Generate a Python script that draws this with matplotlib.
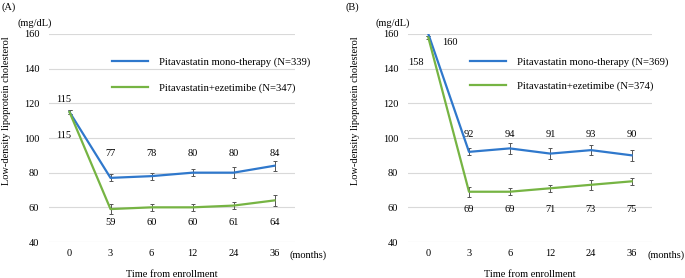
import numpy as np
import matplotlib
matplotlib.use('Agg')
import matplotlib.pyplot as plt

plt.rcParams['font.family'] = ['Liberation Serif', 'DejaVu Serif']
plt.rcParams['font.size'] = 7.5

# data
months = ['0', '3', '6', '12', '24', '36']

a_mono = [115, 77, 78, 80, 80, 84]
a_mono_err = [1, 2, 2, 2, 3, 3]
a_ezet = [115, 59, 60, 60, 61, 64]
a_ezet_err = [1, 3, 2, 2, 2, 3]

b_mono = [160, 92, 94, 91, 93, 90]
b_mono_err = [1, 2, 3, 3, 3, 3]
b_ezet = [158, 69, 69, 71, 73, 75]
b_ezet_err = [1, 3, 2, 2, 3, 2]

a_labels = ['Pitavastatin mono-therapy (N=339)', 'Pitavastatin+ezetimibe (N=347)']
b_labels = ['Pitavastatin mono-therapy (N=369)', 'Pitavastatin+ezetimibe (N=374)']

blue = '#2F78CC'
green = '#76B443'

fig = plt.figure(figsize=(6.85, 2.78), dpi=100)
W, H = 685, 278


def px_axes(x0, x1, y_top, y_bot):
    return fig.add_axes([x0 / W, 1 - y_bot / H, (x1 - x0) / W, (y_bot - y_top) / H])


def panel(ax, mono, mono_err, ezet, ezet_err, labels, hi_y, lo_y):
    x = np.arange(len(months))
    ax.errorbar(x, mono, yerr=mono_err, color=blue, lw=1.6, ecolor='#555555',
                elinewidth=0.7, capsize=1.6, capthick=0.7, label=labels[0], zorder=3)
    ax.errorbar(x, ezet, yerr=ezet_err, color=green, lw=1.6, ecolor='#555555',
                elinewidth=0.7, capsize=1.6, capthick=0.7, label=labels[1], zorder=3)
    for i in range(1, len(months)):
        ax.text(x[i], hi_y, str(mono[i]), ha='center', va='center')
        ax.text(x[i], lo_y, str(ezet[i]), ha='center', va='center')
    ax.set_xlim(-0.5, len(months) - 0.5)
    ax.set_ylim(40, 160)
    ax.set_yticks(np.arange(40, 161, 20))
    ax.set_xticks(x)
    ax.set_xticklabels(months)
    ax.grid(axis='y', color='#d9d9d9', lw=0.8)
    ax.set_axisbelow(True)
    for s in ax.spines.values():
        s.set_visible(False)
    ax.tick_params(length=0, pad=5)
    ax.tick_params(axis='y', pad=7)
    ax.annotate('(months)', xy=(1.0, 0), xycoords='axes fraction', xytext=(-5, -8),
                textcoords='offset pixels', ha='left', va='top')
    ax.set_xlabel('Time from enrollment', labelpad=9)
    h, l = ax.get_legend_handles_labels()
    h = [hh[0] for hh in h]
    return h, l


ax1 = px_axes(49, 295, 34, 242)
h, l = panel(ax1, a_mono, a_mono_err, a_ezet, a_ezet_err, a_labels, 91, 51)
ax1.text(-0.15, 122, str(a_mono[0]), ha='center', va='center')
ax1.text(-0.15, 101.5, str(a_ezet[0]), ha='center', va='center')
ax1.legend(h, l, loc='upper left', bbox_to_anchor=(0.256, 0.89), frameon=False,
           handlelength=3.4, handletextpad=1.0, labelspacing=1.6, borderpad=0,
           borderaxespad=0, fontsize=7.7)

ax2 = px_axes(408, 652, 34, 242)
h, l = panel(ax2, b_mono, b_mono_err, b_ezet, b_ezet_err, b_labels, 102, 59)
ax2.text(0.52, 155, str(b_mono[0]), ha='center', va='center')
ax2.text(-0.3, 143.5, str(b_ezet[0]), ha='center', va='center')
ax2.legend(h, l, loc='upper left', bbox_to_anchor=(0.254, 0.89), frameon=False,
           handlelength=3.4, handletextpad=1.0, labelspacing=1.4, borderpad=0,
           borderaxespad=0, fontsize=7.7)

for xp, tag in [(2, '(A)'), (345, '(B)')]:
    fig.text(xp / W, 1 - 7 / H, tag, ha='left', va='center')
fig.text(17 / W, 1 - 23 / H, '(mg/dL)', ha='left', va='center')
fig.text(375 / W, 1 - 23 / H, '(mg/dL)', ha='left', va='center')
fig.text(7 / W, 1 - 111 / H, 'Low-density lipoprotein cholesterol', rotation=90,
         ha='center', va='center')
fig.text(355 / W, 1 - 111 / H, 'Low-density lipoprotein cholesterol', rotation=90,
         ha='center', va='center')

fig.savefig('out.png', dpi=100)
